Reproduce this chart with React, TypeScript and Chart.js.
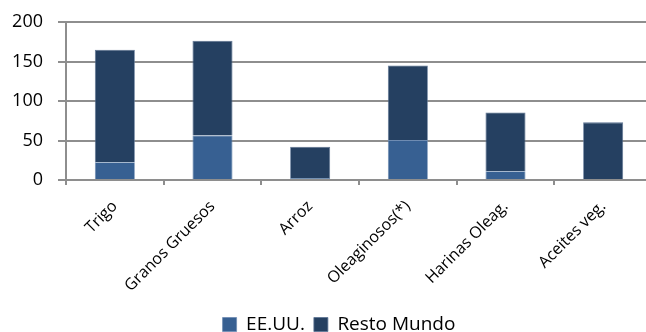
import React, { useEffect, useRef } from "react";
import { Chart, registerables } from "chart.js";

Chart.register(...registerables);

const categories = ["Trigo", "Granos Gruesos", "Arroz", "Oleaginosos(*)", "Harinas Oleag.", "Aceites veg."];
const eeuu = [22.5, 56.3, 2.5, 50.5, 11, 0];
const restoMundo = [142.5, 120, 39.5, 94.5, 74.6, 73];
const yTicks = [0, 50, 100, 150, 200];

const FONT = "'Open Sans', 'Noto Sans', sans-serif";
const GRID = "#8e8e8e";

// Moves the legend a little to the right of the canvas centre.
const legendShift = {
  id: "legendShift",
  afterLayout(chart: any) {
    const l = chart.legend;
    if (l) {
      l.left += 13;
      l.right += 13;
    }
  },
};

export default function App() {
  const ref = useRef<HTMLCanvasElement | null>(null);

  useEffect(() => {
    if (!ref.current) return;
    const chart = new Chart(ref.current, {
      type: "bar",
      data: {
        labels: categories,
        datasets: [
          {
            label: "EE.UU.",
            data: eeuu,
            backgroundColor: "#376092",
            borderColor: "#6f8cb2",
            borderWidth: 0.8,
          },
          {
            label: "Resto Mundo",
            data: restoMundo,
            backgroundColor: "#254061",
            borderColor: "#5c7394",
            borderWidth: 0.8,
          },
        ],
      },
      plugins: [legendShift],
      options: {
        animation: false,
        responsive: false,
        devicePixelRatio: 1,
        datasets: { bar: { categoryPercentage: 1, barPercentage: 0.41 } },
        layout: { padding: { top: 22, right: 0, bottom: 0, left: 0 } },
        plugins: {
          tooltip: { enabled: false },
          legend: {
            position: "bottom",
            labels: {
              color: "#000",
              font: { family: FONT, size: 19 },
              boxWidth: 14,
              boxHeight: 14,
              padding: 9,
            },
          },
        },
        scales: {
          x: {
            stacked: true,
            offset: true,
            grid: {
              display: true,
              drawOnChartArea: false,
              drawTicks: true,
              tickLength: 5,
              color: GRID,
              lineWidth: 2,
              offset: true,
            },
            border: { display: true, color: GRID, width: 2 },
            ticks: {
              color: "#000",
              font: { family: FONT, size: 16 },
              minRotation: 45,
              maxRotation: 45,
              padding: 12,
            },
            afterFit: (s: any) => {
              s.height = 126;
            },
          },
          y: {
            stacked: true,
            min: 0,
            max: 200,
            afterBuildTicks: (s: any) => {
              s.ticks = yTicks.map((v) => ({ value: v }));
            },
            grid: {
              color: GRID,
              lineWidth: 2,
              drawTicks: true,
              tickLength: 8,
            },
            border: { display: true, color: GRID, width: 2 },
            ticks: {
              color: "#000",
              font: { family: FONT, size: 18 },
              padding: 15,
            },
            afterFit: (s: any) => {
              s.width = 66;
              s.paddingTop = 0;
              s.paddingBottom = 0;
            },
          },
        },
      },
    });
    return () => chart.destroy();
  }, []);

  return (
    <div
      style={{
        position: "absolute",
        left: 0,
        top: 0,
        width: 646,
        height: 332,
        overflow: "hidden",
        background: "#fff",
      }}
    >
      <canvas ref={ref} width={652} height={344} style={{ display: "block" }} />
    </div>
  );
}
